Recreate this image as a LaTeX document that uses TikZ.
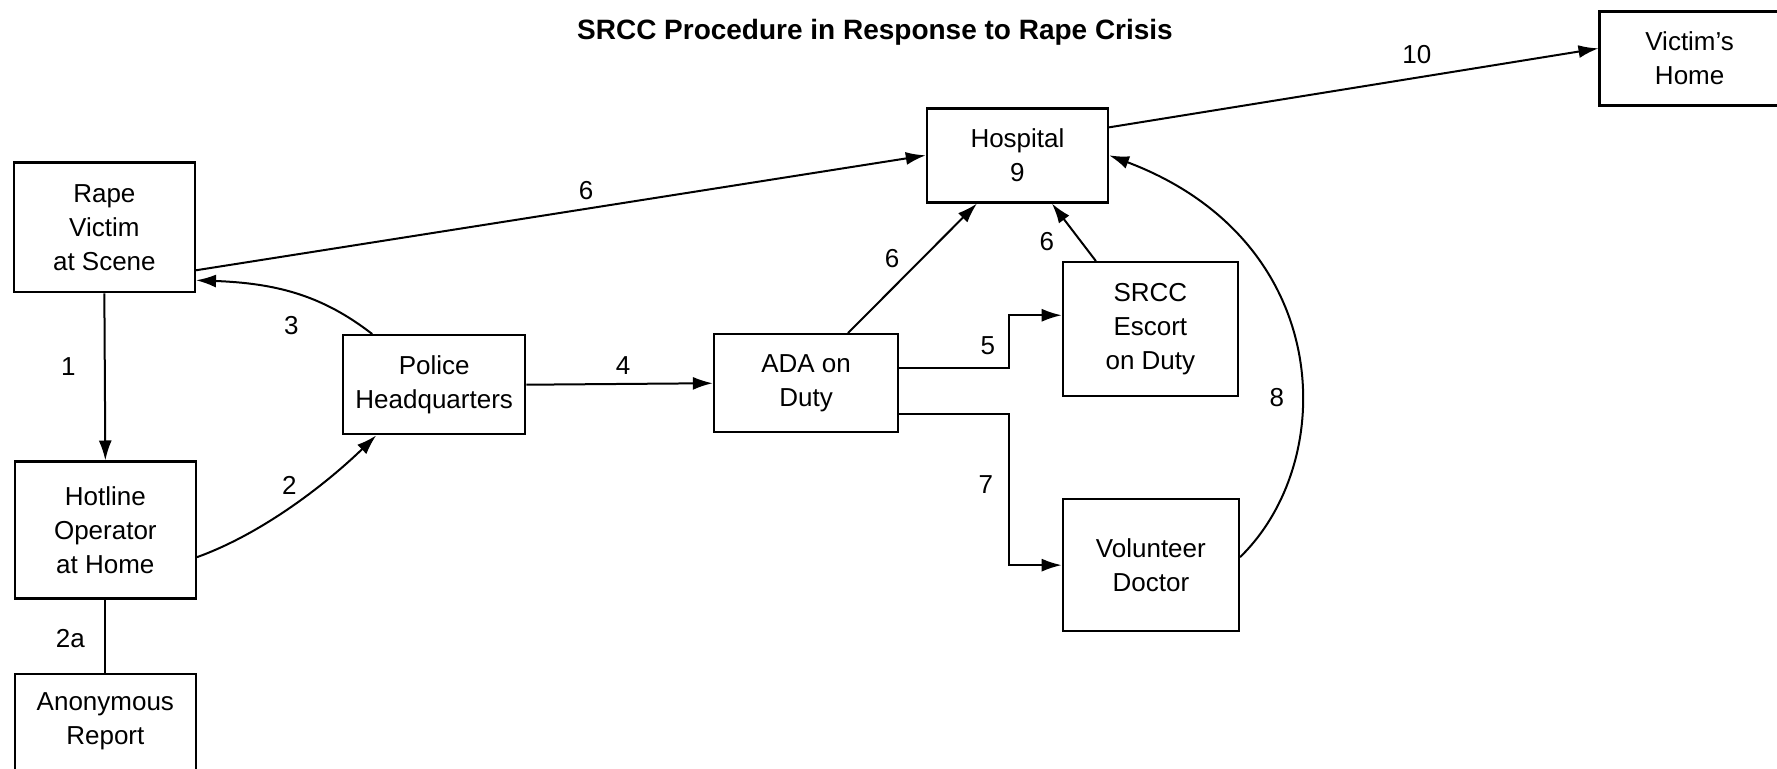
\documentclass[tikz,border=0pt]{standalone}
\usepackage{fontspec}
\setmainfont{Liberation Sans}
\usetikzlibrary{arrows.meta}
\tikzset{
	box/.style={draw, line width=1.2pt, align=center, inner sep=2pt, font=\fontsize{13}{17}\selectfont},
	conn/.style={line width=1pt, -{Latex[length=10pt,width=6.5pt]}},
	plain/.style={line width=1pt},
	lbl/.style={font=\fontsize{13}{17}\selectfont},
}

\begin{document}
\begin{tikzpicture}[x=0.5pt,y=-0.5pt]
		\filldraw[white] (0,0) rectangle (1777,768);
		\useasboundingbox (0,0) rectangle (1777,768);

		\node[font=\bfseries\fontsize{14}{17}\selectfont] (title) at (875,32) {SRCC Procedure in Response to Rape Crisis};

		\node[box, minimum width=90.5pt, minimum height=65pt] (victim) at (104,227) {Rape\\Victim\\at Scene};
		\node[box, minimum width=90.5pt, minimum height=68.5pt] (hotline) at (105,530) {Hotline\\Operator\\at Home};
		\node[box, minimum width=90.5pt, minimum height=66pt] (anon) at (105,740) {};
		\node[lbl, align=center] (anontext) at (105,721) {Anonymous\\Report};
		\node[box, minimum width=91pt, minimum height=49.5pt] (police) at (434,384.5) {Police\\Headquarters};
		\node[box, minimum width=92pt, minimum height=49pt] (ada) at (806,383) {ADA on\\Duty};
		\node[box, minimum width=90.5pt, minimum height=47pt] (hospital) at (1017.5,155) {Hospital\\9};
		\node[box, minimum width=87.5pt, minimum height=67pt] (srcc) at (1150.5,329) {SRCC\\Escort\\on Duty};
		\node[box, minimum width=88pt, minimum height=66pt] (doctor) at (1151,565) {Volunteer\\Doctor};
		\node[box, minimum width=90pt, minimum height=47pt] (home) at (1690,58) {Victim's\\Home};

		\draw[conn] (victim.south) -- (hotline.north);
		\draw[plain] (hotline.south) -- (anon.north);
		\draw[conn] (hotline.east |- 0,557) .. controls (266,532) and (331,479) .. (police.south -| 376,0);
		\draw[conn] (police.north -| 372,0) .. controls (322,295) and (276,283) .. (victim.east |- 0,280);
		\draw[conn] (victim.east |- 0,270) -- (hospital.west);
		\draw[conn] (police.east) -- (ada.west);
		\draw[conn] (ada.east |- 0,368) -- (1009,368) |- (srcc.west |- 0,315);
		\draw[conn] (ada.east |- 0,414) -- (1009,414) |- (doctor.west);
		\draw[conn] (ada.north -| 848,0) -- (hospital.south -| 977,0);
		\draw[conn] (srcc.north -| 1096,0) -- (hospital.south -| 1052,0);
		\draw[conn] (doctor.east |- 0,557) .. controls (1340,460) and (1335,240) .. (hospital.east);
		\draw[conn] (hospital.east |- 0,127) -- (home.west |- 0,48);

		\node[lbl] (n1) at (68,366) {1};
		\node[lbl] (n2) at (289,485) {2};
		\node[lbl] (n2a) at (70,638) {2a};
		\node[lbl] (n3) at (291,325) {3};
		\node[lbl] (n4) at (623,365) {4};
		\node[lbl] (n5) at (988,345) {5};
		\node[lbl] (n6a) at (586,190) {6};
		\node[lbl] (n6b) at (892,258) {6};
		\node[lbl] (n6c) at (1047,241) {6};
		\node[lbl] (n7) at (986,484) {7};
		\node[lbl] (n8) at (1277,397) {8};
		\node[lbl] (n10) at (1417,54) {10};
	\end{tikzpicture}
\end{document}
